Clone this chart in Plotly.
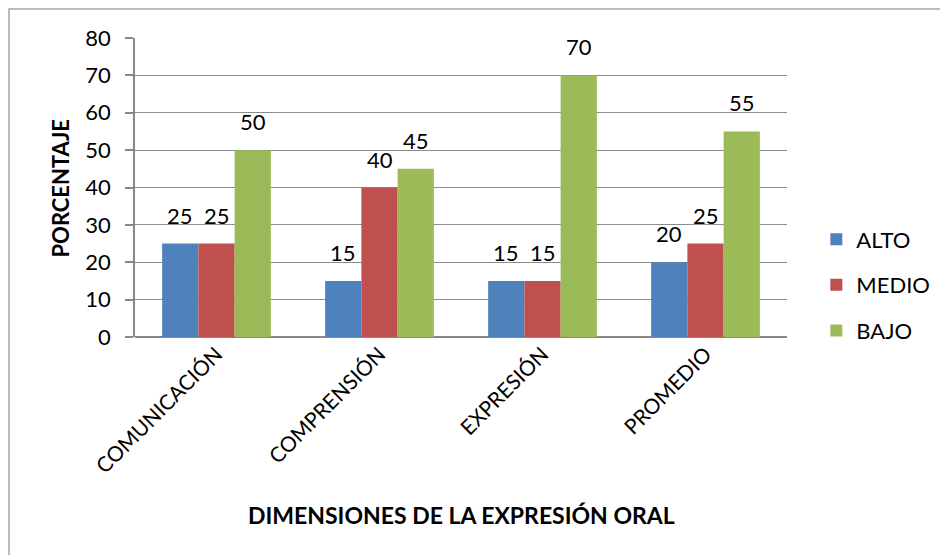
import plotly.graph_objects as go

categories = ["COMUNICACIÓN", "COMPRENSIÓN", "EXPRESIÓN", "PROMEDIO"]
alto = [25, 15, 15, 20]
medio = [25, 40, 15, 25]
bajo = [50, 45, 70, 55]
series = [("ALTO", alto, "#4F81BD"), ("MEDIO", medio, "#C0504D"), ("BAJO", bajo, "#9BBB59")]
y_ticks = [0, 10, 20, 30, 40, 50, 60, 70, 80]

FONT = "Lato"
PLOT_W = 652
BAR_W = PLOT_W / len(categories) / 4.5

fig = go.Figure()
annotations = []
for i, (name, vals, col) in enumerate(series):
    fig.add_trace(go.Bar(
        x=categories, y=vals, name=name, marker_color=col, marker_line_width=0,
        legendgroup=f"g{i}",
    ))
    for c, v in zip(categories, vals):
        annotations.append(dict(
            x=c, y=v, xref="x", yref="y", text=str(v), showarrow=False,
            xshift=(i - 1) * BAR_W, yshift=13, yanchor="bottom", xanchor="center",
            font=dict(family=FONT, size=22, color="black"),
        ))

annotations += [
    dict(text="<b>PORCENTAJE</b>", xref="paper", yref="paper", x=-0.1135, y=0.5,
         xanchor="center", yanchor="middle",
         textangle=-90, showarrow=False, font=dict(family=FONT, size=22, color="black")),
    dict(text="<b>DIMENSIONES DE LA EXPRESIÓN ORAL</b>", xref="paper", yref="paper",
         x=0.5, y=-0.595, xanchor="center", yanchor="middle",
         showarrow=False, font=dict(family=FONT, size=23, color="black")),
]

fig.update_layout(
    width=940, height=547,
    margin=dict(l=127, r=161, t=30, b=218, autoexpand=False),
    paper_bgcolor="white", plot_bgcolor="white",
    barmode="group", bargap=0.333, bargroupgap=0,
    font=dict(family=FONT, size=22, color="black"),
    showlegend=True,
    legend=dict(x=1.045, y=0.174, xanchor="left", yanchor="middle",
                font=dict(family=FONT, size=22, color="black"),
                traceorder="grouped", tracegroupgap=14, itemwidth=30,
                bgcolor="rgba(0,0,0,0)"),
    xaxis=dict(tickangle=-45, showline=False, ticks="", showgrid=False, automargin=False,
               tickfont=dict(family=FONT, size=21, color="black")),
    yaxis=dict(range=[0, 80], tickvals=y_ticks, showline=True, linecolor="#888888", linewidth=1.5,
               ticks="outside", ticklen=8, tickcolor="#888888", tickwidth=1.5,
               ticklabelstandoff=10, automargin=False,
               showgrid=True, gridcolor="#8c8c8c", gridwidth=1.3,
               zeroline=True, zerolinecolor="#888888", zerolinewidth=2,
               tickfont=dict(family=FONT, size=22, color="black")),
    shapes=[dict(type="rect", xref="paper", yref="paper",
                 x0=-0.1933, x1=2, y0=-2, y1=1.097,
                 line=dict(color="#a6a6a6", width=1.5), layer="below")],
    annotations=annotations,
)
fig.write_html("out.html")
